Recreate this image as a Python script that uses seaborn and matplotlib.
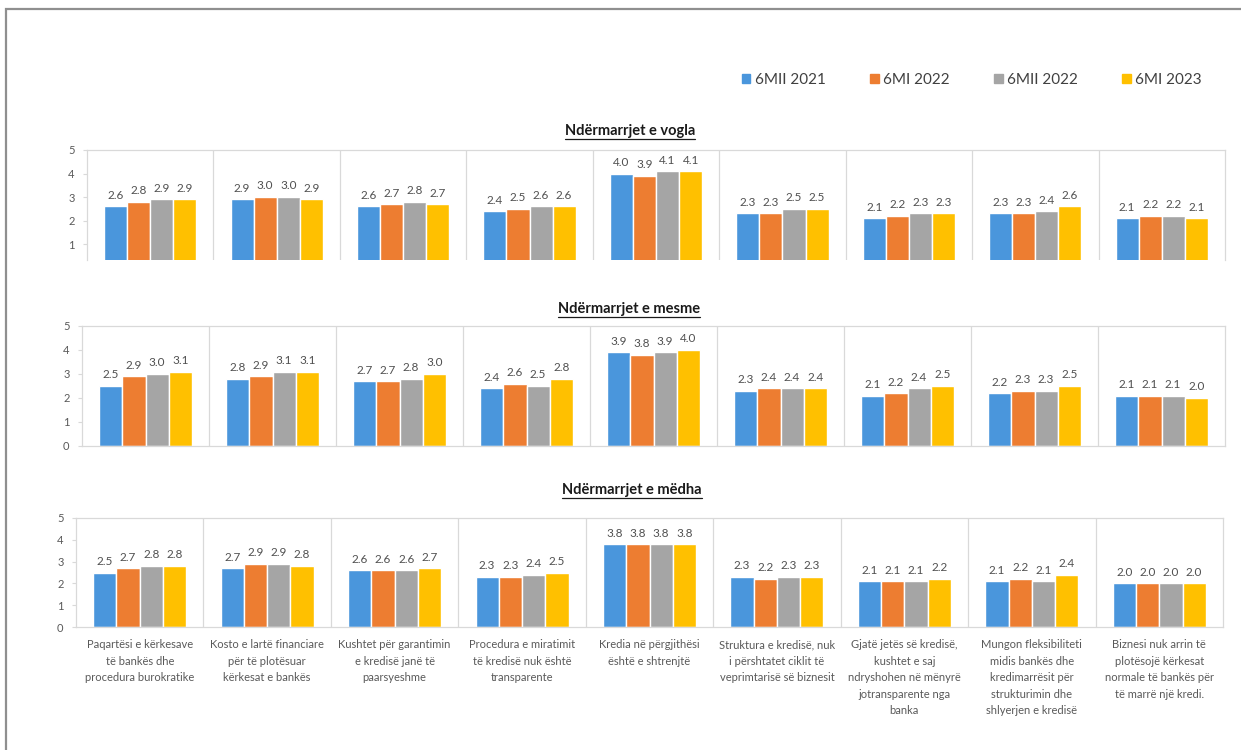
import matplotlib
matplotlib.use("Agg")
import matplotlib.pyplot as plt
from matplotlib.patches import Rectangle
from matplotlib.lines import Line2D
import seaborn as sns
import pandas as pd

# ---- data -------------------------------------------------------------
categories = [
    "Paqartësi e kërkesave\ntë bankës dhe\nprocedura burokratike",
    "Kosto e lartë financiare\npër të plotësuar\nkërkesat e bankës",
    "Kushtet për garantimin\ne kredisë janë të\npaarsyeshme",
    "Procedura e miratimit\ntë kredisë nuk është\ntransparente",
    "Kredia në përgjithësi\nështë e shtrenjtë",
    "Struktura e kredisë, nuk\ni përshtatet ciklit të\nveprimtarisë së biznesit",
    "Gjatë jetës së kredisë,\nkushtet e saj\nndryshohen në mënyrë\njotransparente nga\nbanka",
    "Mungon fleksibiliteti\nmidis bankës dhe\nkredimarrësit për\nstrukturimin dhe\nshlyerjen e kredisë",
    "Biznesi nuk arrin të\nplotësojë kërkesat\nnormale të bankës për\ntë marrë një kredi.",
]
periods = ["6MII 2021", "6MI 2022", "6MII 2022", "6MI 2023"]

# one list per period, values per category
small_2021h2 = [2.6, 2.9, 2.6, 2.4, 4.0, 2.3, 2.1, 2.3, 2.1]
small_2022h1 = [2.8, 3.0, 2.7, 2.5, 3.9, 2.3, 2.2, 2.3, 2.2]
small_2022h2 = [2.9, 3.0, 2.8, 2.6, 4.1, 2.5, 2.3, 2.4, 2.2]
small_2023h1 = [2.9, 2.9, 2.7, 2.6, 4.1, 2.5, 2.3, 2.6, 2.1]

medium_2021h2 = [2.5, 2.8, 2.7, 2.4, 3.9, 2.3, 2.1, 2.2, 2.1]
medium_2022h1 = [2.9, 2.9, 2.7, 2.6, 3.8, 2.4, 2.2, 2.3, 2.1]
medium_2022h2 = [3.0, 3.1, 2.8, 2.5, 3.9, 2.4, 2.4, 2.3, 2.1]
medium_2023h1 = [3.1, 3.1, 3.0, 2.8, 4.0, 2.4, 2.5, 2.5, 2.0]

large_2021h2 = [2.5, 2.7, 2.6, 2.3, 3.8, 2.3, 2.1, 2.1, 2.0]
large_2022h1 = [2.7, 2.9, 2.6, 2.3, 3.8, 2.2, 2.1, 2.2, 2.0]
large_2022h2 = [2.8, 2.9, 2.6, 2.4, 3.8, 2.3, 2.1, 2.1, 2.0]
large_2023h1 = [2.8, 2.8, 2.7, 2.5, 3.8, 2.3, 2.2, 2.4, 2.0]

panel_titles = ["Ndërmarrjet e vogla", "Ndërmarrjet e mesme", "Ndërmarrjet e mëdha"]
panel_series = [
    [small_2021h2, small_2022h1, small_2022h2, small_2023h1],
    [medium_2021h2, medium_2022h1, medium_2022h2, medium_2023h1],
    [large_2021h2, large_2022h1, large_2022h2, large_2023h1],
]

colors = ["#4A96DC", "#ED7D31", "#A5A5A5", "#FFC000"]

# ---- style ------------------------------------------------------------
sns.set_theme(style="white")
plt.rcParams["font.family"] = ["Lato", "DejaVu Sans"]

W, H = 1241, 750
fig = plt.figure(figsize=(W / 100, H / 100), dpi=100)


def fx(px):
    return px / W


def fy(py):
    return 1 - py / H


# outer frame of the chart area
fig.patches.append(Rectangle((fx(6), fy(H + 20)), 1.2, fy(9) - fy(H + 20),
                             transform=fig.transFigure, fill=False,
                             edgecolor="#8f8f8f", lw=1.6, zorder=0))

# panel boxes: (left, right, top, bottom) in pixels, and y lower limit
boxes = [(87, 1225, 150, 260), (82, 1225, 326, 446), (76, 1223, 518, 627)]
ylows = [0.32, 0.0, 0.0]
title_y = [131, 309, 490]
title_x = [630, 629, 632]

grid_col = "#d9d9d9"
text_col = "#505050"

for k, (series, (l, r, t, b)) in enumerate(zip(panel_series, boxes)):
    ax = fig.add_axes([fx(l), fy(b), fx(r) - fx(l), fy(t) - fy(b)])
    rows = []
    for p, vals in zip(periods, series):
        for c_i, v in enumerate(vals):
            rows.append({"cat": c_i, "period": p, "val": v})
    df = pd.DataFrame(rows)
    sns.barplot(data=df, x="cat", y="val", hue="period", hue_order=periods,
                palette=colors, width=0.73, gap=0, saturation=1,
                legend=False, ax=ax, errorbar=None)
    for cont in ax.containers:
        ax.bar_label(cont, fmt="%.1f", padding=4, fontsize=8.5, color=text_col)

    ax.set_xlim(-0.5, len(categories) - 0.5)
    ax.set_ylim(ylows[k], 5)
    ax.set_yticks(range(1 if k == 0 else 0, 6))
    ax.tick_params(axis="y", labelsize=8, labelcolor="#595959", length=3,
                   color=grid_col, width=0.8, pad=6, left=True)
    for i in range(len(categories) - 1):
        ax.axvline(i + 0.5, color=grid_col, lw=0.9, zorder=0)
    for side in ["top", "left", "right", "bottom"]:
        ax.spines[side].set_color(grid_col)
        ax.spines[side].set_linewidth(0.9)
    if k == 0:
        ax.spines["bottom"].set_visible(False)
    ax.set_xlabel("")
    ax.set_ylabel("")
    if k == 2:
        ax.set_xticks(range(len(categories)))
        ax.set_xticklabels(categories, fontsize=8, color="#595959",
                           linespacing=1.6, va="top")
        ax.tick_params(axis="x", length=0, pad=9)
    else:
        ax.set_xticks([])

    # underlined panel heading
    tt = fig.text(fx(title_x[k]), fy(title_y[k]), panel_titles[k], ha="center",
                  va="center", fontsize=10.5, fontweight="bold", color="#1a1a1a")
    fig.canvas.draw()
    bb = tt.get_window_extent().transformed(fig.transFigure.inverted())
    fig.add_artist(Line2D([bb.x0, bb.x1], [bb.y0 - 0.001, bb.y0 - 0.001],
                          transform=fig.transFigure, color="#1a1a1a", lw=0.9))

# legend
handles = [Rectangle((0, 0), 1, 1, color=c) for c in colors]
fig.legend(handles, periods, loc="center", bbox_to_anchor=(fx(972), fy(80)),
           ncol=4, frameon=False, fontsize=11, handlelength=0.55,
           handleheight=0.55, handletextpad=0.3, columnspacing=2.9,
           labelcolor="#404040")

fig.savefig("out.png", dpi=100, facecolor="white")
